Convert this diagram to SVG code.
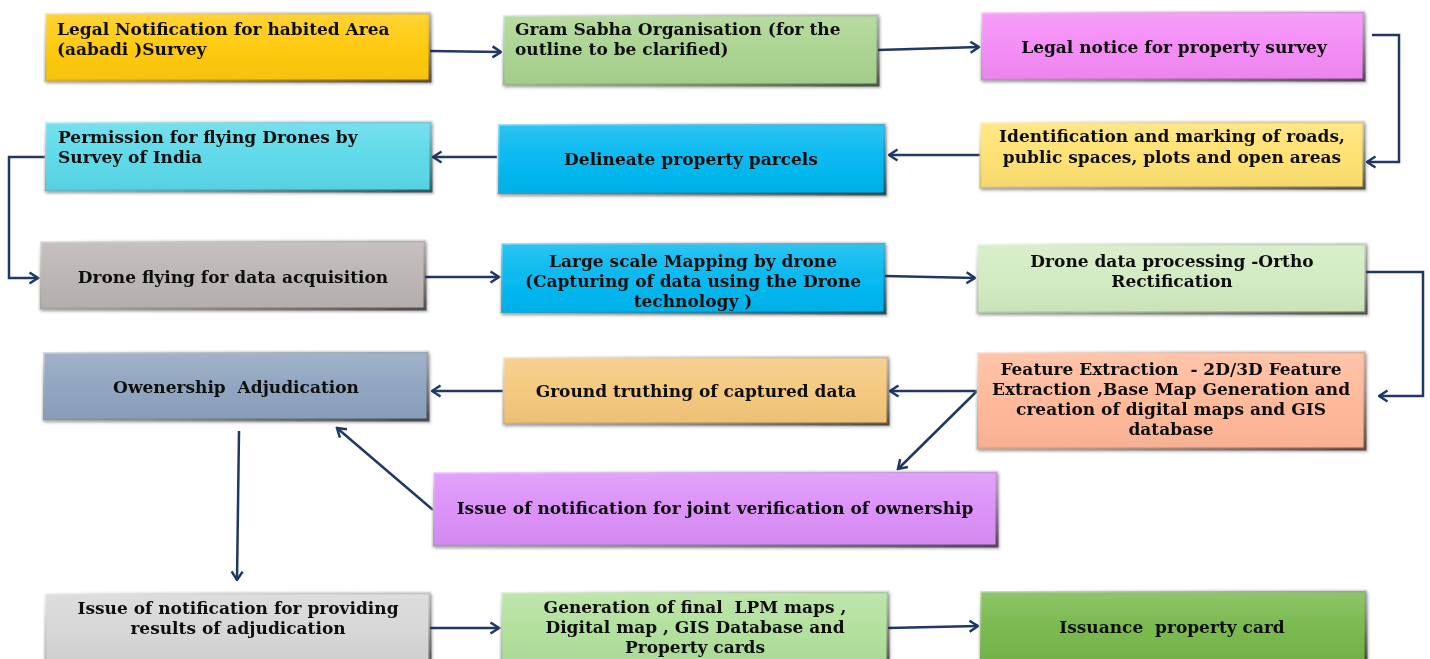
<svg xmlns="http://www.w3.org/2000/svg" width="1430" height="659" viewBox="0 0 1430 659">
<style>
  .t { font-family: "DejaVu Serif", "Liberation Serif", serif; font-weight: bold; font-size: 17px; fill: #111; white-space: pre; }
  .c { text-anchor: middle; }
  .bev { fill: url(#sheen); stroke: url(#edge); stroke-width: 3; }
  .n { filter: url(#sh); }
  .con path { fill: none; stroke: #1F3864; stroke-width: 2.5; marker-end: url(#ah); }
</style>
<defs>
  <linearGradient id="sheen" x1="0" y1="0" x2="0" y2="1">
    <stop offset="0" stop-color="#fff" stop-opacity="0.18"/>
    <stop offset="0.5" stop-color="#fff" stop-opacity="0.03"/>
    <stop offset="1" stop-color="#000" stop-opacity="0.04"/>
  </linearGradient>
  <linearGradient id="edge" x1="0" y1="0" x2="1" y2="1">
    <stop offset="0" stop-color="#fff" stop-opacity="0.55"/>
    <stop offset="0.5" stop-color="#888" stop-opacity="0.3"/>
    <stop offset="1" stop-color="#000" stop-opacity="0.55"/>
  </linearGradient>
  <filter id="sh" x="-5%" y="-10%" width="110%" height="130%">
    <feDropShadow dx="1.5" dy="2" stdDeviation="1.2" flood-color="#000" flood-opacity="0.35"/>
  </filter>
  <marker id="ah" viewBox="0 0 14 14" refX="12.5" refY="7" markerWidth="14" markerHeight="14" markerUnits="userSpaceOnUse" orient="auto">
    <path d="M4,1.5 L12.5,7 L4,12.5" fill="none" stroke="#1F3864" stroke-width="2.5"/>
  </marker>
</defs>
<rect width="1430" height="659" fill="#fff"/>

<g class="con">
  <path d="M430,51 L501,52"/>
  <path d="M878,50 L979,47"/>
  <path d="M1372,35 L1399,35 L1399,162 L1367,162"/>
  <path d="M980,155 L889,155"/>
  <path d="M497,157 L433,157"/>
  <path d="M45,157 L9,157 L9,278 L38,278"/>
  <path d="M425,277 L499,277"/>
  <path d="M885,276 L975,278"/>
  <path d="M1366,272 L1423,272 L1423,396 L1379,396"/>
  <path d="M977,391 L890,391"/>
  <path d="M503,391 L432,391"/>
  <path d="M977,391 L898,469"/>
  <path d="M433,510 L337,428"/>
  <path d="M239,431 L237,580"/>
  <path d="M430,628 L499,628"/>
  <path d="M888,628 L978,626"/>
</g>

<g id="n1" class="n"><rect x="45" y="13" width="385" height="68" fill="#FFC90A"/><rect class="bev" x="45" y="13" width="385" height="68"/>
  <text class="t" x="57" y="35">Legal Notification for habited Area</text><text class="t" x="57" y="55">(aabadi )Survey</text></g>
<g id="n2" class="n"><rect x="503" y="15" width="375" height="70" fill="#A9D38F"/><rect class="bev" x="503" y="15" width="375" height="70"/>
  <text class="t" x="515" y="35">Gram Sabha Organisation (for the</text><text class="t" x="515" y="55">outline to be clarified)</text></g>
<g id="n3" class="n"><rect x="981" y="12" width="383" height="68" fill="#F48AF6"/><rect class="bev" x="981" y="12" width="383" height="68"/>
  <text class="t c" x="1174" y="53">Legal notice for property survey</text></g>
<g id="n4" class="n"><rect x="980" y="122" width="384" height="66" fill="#FFE170"/><rect class="bev" x="980" y="122" width="384" height="66"/>
  <text class="t c" x="1172" y="142">Identification and marking of roads,</text><text class="t c" x="1172" y="163">public spaces, plots and open areas</text></g>
<g id="n5" class="n"><rect x="498" y="124" width="387" height="70" fill="#00B7F0"/><rect class="bev" x="498" y="124" width="387" height="70"/>
  <text class="t c" x="691" y="165">Delineate property parcels</text></g>
<g id="n6" class="n"><rect x="45" y="122" width="386" height="69" fill="#5AD9E9"/><rect class="bev" x="45" y="122" width="386" height="69"/>
  <text class="t" x="58" y="143">Permission for flying Drones by</text><text class="t" x="58" y="163">Survey of India</text></g>
<g id="n7" class="n"><rect x="40" y="241" width="385" height="68" fill="#BAB4B3"/><rect class="bev" x="40" y="241" width="385" height="68"/>
  <text class="t c" x="233" y="283">Drone flying for data acquisition</text></g>
<g id="n8" class="n"><rect x="501" y="243" width="384" height="70" fill="#00B7F0"/><rect class="bev" x="501" y="243" width="384" height="70"/>
  <text class="t c" x="693" y="267">Large scale Mapping by drone</text><text class="t c" x="693" y="287">(Capturing of data using the Drone</text><text class="t c" x="693" y="307">technology )</text></g>
<g id="n9" class="n"><rect x="977" y="244" width="389" height="69" fill="#D1EBC1"/><rect class="bev" x="977" y="244" width="389" height="69"/>
  <text class="t c" x="1172" y="267">Drone data processing -Ortho</text><text class="t c" x="1172" y="287">Rectification</text></g>
<g id="n10" class="n"><rect x="977" y="352" width="388" height="97" fill="#FFB898"/><rect class="bev" x="977" y="352" width="388" height="97"/>
  <text class="t c" x="1171" y="375">Feature Extraction  - 2D/3D Feature</text><text class="t c" x="1171" y="395">Extraction ,Base Map Generation and</text><text class="t c" x="1171" y="415">creation of digital maps and GIS</text><text class="t c" x="1171" y="435">database</text></g>
<g id="n11" class="n"><rect x="503" y="357" width="385" height="67" fill="#F5C77B"/><rect class="bev" x="503" y="357" width="385" height="67"/>
  <text class="t c" x="696" y="397">Ground truthing of captured data</text></g>
<g id="n12" class="n"><rect x="43" y="352" width="385" height="68" fill="#8DA3BE"/><rect class="bev" x="43" y="352" width="385" height="68"/>
  <text class="t c" x="236" y="393">Owenership  Adjudication</text></g>
<g id="n13" class="n"><rect x="433" y="472" width="564" height="74" fill="#DB8FF8"/><rect class="bev" x="433" y="472" width="564" height="74"/>
  <text class="t c" x="715" y="514">Issue of notification for joint verification of ownership</text></g>
<g id="n14" class="n"><rect x="45" y="593" width="385" height="72" fill="#D6D6D6"/><rect class="bev" x="45" y="593" width="385" height="72"/>
  <text class="t c" x="238" y="614">Issue of notification for providing</text><text class="t c" x="238" y="634">results of adjudication</text></g>
<g id="n15" class="n"><rect x="501" y="592" width="387" height="72" fill="#B1E09B"/><rect class="bev" x="501" y="592" width="387" height="72"/>
  <text class="t c" x="695" y="613">Generation of final  LPM maps ,</text><text class="t c" x="695" y="633">Digital map , GIS Database and</text><text class="t c" x="695" y="653">Property cards</text></g>
<g id="n16" class="n"><rect x="980" y="591" width="386" height="72" fill="#76B84A"/><rect class="bev" x="980" y="591" width="386" height="72"/>
  <text class="t c" x="1172" y="633">Issuance  property card</text></g>
</svg>
